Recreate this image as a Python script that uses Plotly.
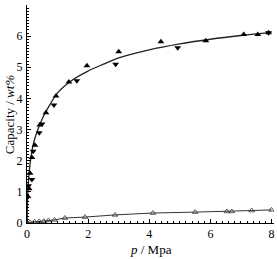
import plotly.graph_objects as go

# Upper series (filled triangles)
up_x = [0.0, 0.03, 0.07, 0.10, 0.16, 0.26, 0.42, 0.62, 0.95, 1.37, 1.96, 3.0, 4.38, 5.85, 7.09, 7.55, 7.9]
up_y = [0.0, 0.85, 1.10, 1.60, 2.10, 2.50, 3.15, 3.54, 4.08, 4.53, 5.05, 5.50, 5.82, 5.85, 6.05, 6.05, 6.11]
down_x = [0.05, 0.16, 0.20, 0.40, 0.49, 0.88, 1.63, 2.90, 4.93, 7.9]
down_y = [1.20, 1.40, 2.30, 2.90, 3.18, 3.79, 4.57, 5.10, 5.63, 6.11]

# Fitted curve
fit_x = [0.0, 0.02, 0.05, 0.10, 0.20, 0.30, 0.50, 0.75, 1.0, 1.5, 2.0, 2.5, 3.0, 4.0, 5.0, 6.0, 7.0, 8.0]
fit_y = [0.0, 0.80, 1.35, 1.90, 2.50, 2.85, 3.35, 3.80, 4.18, 4.60, 4.88, 5.10, 5.30, 5.56, 5.75, 5.90, 6.02, 6.12]

# Lower series (open triangles)
low_x = [0.0, 0.10, 0.25, 0.40, 0.55, 0.70, 0.90, 1.24, 1.90, 2.88, 4.12, 5.50, 6.54, 6.70, 7.35, 8.0]
low_y = [0.0, 0.02, 0.04, 0.05, 0.06, 0.08, 0.10, 0.16, 0.19, 0.26, 0.32, 0.35, 0.37, 0.37, 0.40, 0.42]

font = "Liberation Serif"
fig = go.Figure()
fig.add_trace(go.Scatter(x=fit_x, y=fit_y, mode="lines", line=dict(color="#222", width=1.3, shape="spline"), hoverinfo="skip"))
fig.add_trace(go.Scatter(x=up_x, y=up_y, mode="markers", marker=dict(symbol="triangle-up", size=6, color="black")))
fig.add_trace(go.Scatter(x=down_x, y=down_y, mode="markers", marker=dict(symbol="triangle-down", size=6, color="black")))
fig.add_trace(go.Scatter(x=low_x, y=low_y, mode="lines+markers", line=dict(color="#333", width=1),
                         marker=dict(symbol="triangle-up-open", size=5, color="#333", line=dict(width=0.8))))

fig.update_layout(
    width=277, height=259, showlegend=False,
    margin=dict(l=27, r=3, t=5, b=36),
    paper_bgcolor="white", plot_bgcolor="white",
    font=dict(family=font, size=12, color="black"),
    xaxis=dict(range=[0, 8.08], tickvals=[0, 2, 4, 6, 8], ticks="inside", ticklen=4, tickcolor="black",
               showline=True, linecolor="black", linewidth=1, showgrid=False, zeroline=False,
               automargin=False, ticklabelstandoff=0,
               minor=dict(dtick=0.2, ticks="inside", ticklen=2, tickcolor="black")),
    yaxis=dict(range=[0, 7], tickvals=[0, 1, 2, 3, 4, 5, 6, 7], ticks="inside", ticklen=4, tickcolor="black",
               showline=True, linecolor="black", linewidth=1, showgrid=False, zeroline=False,
               automargin=False, ticklabelstandoff=1,
               minor=dict(dtick=0.1, ticks="inside", ticklen=2, tickcolor="black")),
    annotations=[
        dict(text="<i>p</i> / Mpa", xref="paper", yref="paper", x=0.5, y=-0.122, yanchor="middle",
             showarrow=False, font=dict(size=13)),
        dict(text="Capacity / <i>wt%</i>", xref="paper", yref="paper", x=-0.072, y=0.5, xanchor="center",
             textangle=-90, showarrow=False, font=dict(size=13)),
    ],
)
fig.write_html("out.html", config={"displayModeBar": False},
               post_script="document.body.style.margin='0';document.body.style.overflow='hidden';")
